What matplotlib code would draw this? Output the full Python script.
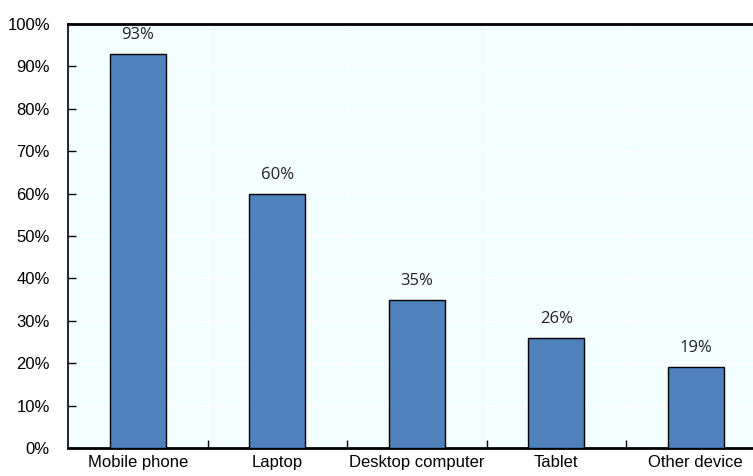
import matplotlib.pyplot as plt
import numpy as np
from matplotlib.ticker import FuncFormatter, FixedLocator

devices = ["Mobile phone", "Laptop", "Desktop computer", "Tablet", "Other device"]
shares = [93, 60, 35, 26, 19]

plt.rcParams["font.family"] = ["Liberation Sans", "DejaVu Sans"]

fig = plt.figure(figsize=(7.53, 4.76), dpi=100)
ax = fig.add_axes([68 / 753, 28 / 476, 1 - 68 / 753, 424 / 476])
ax.set_facecolor("#F3FEFE")

x = np.arange(len(devices))
bars = ax.bar(x, shares, width=0.4, color="#4F81BD", edgecolor="black", linewidth=1, zorder=3)

for b, v in zip(bars, shares):
    ax.text(b.get_x() + b.get_width() / 2, v + 2.6, f"{v}%", ha="center", va="bottom",
            fontsize=12, family=["Open Sans", "DejaVu Sans"], color="#222222", zorder=4)

ax.set_ylim(0, 100)
ax.set_xlim(-0.5, 4.41)
ax.set_yticks(np.arange(0, 101, 10))
ax.yaxis.set_major_formatter(FuncFormatter(lambda v, _: f"{v:.0f}%"))
ax.set_xticks(x)
ax.set_xticklabels(devices)
ax.xaxis.set_minor_locator(FixedLocator(np.arange(0.5, 4.5, 1)))

ax.tick_params(axis="y", direction="in", length=6, width=1, labelsize=12, pad=13)
ax.tick_params(axis="x", which="major", length=0, labelsize=12, pad=5)
ax.tick_params(axis="x", which="minor", direction="in", length=6, width=1)

# white grid on the tinted background
ax.grid(axis="y", color="white", linewidth=1, zorder=1)
ax.grid(axis="x", which="minor", color="white", linewidth=1, zorder=1)

for side in ["left", "bottom", "top"]:
    ax.spines[side].set_color("black")
ax.spines["left"].set_linewidth(1.2)
ax.spines["bottom"].set_linewidth(2)
ax.spines["top"].set_linewidth(2)
ax.spines["right"].set_visible(False)

fig.savefig("out.png", dpi=100)
